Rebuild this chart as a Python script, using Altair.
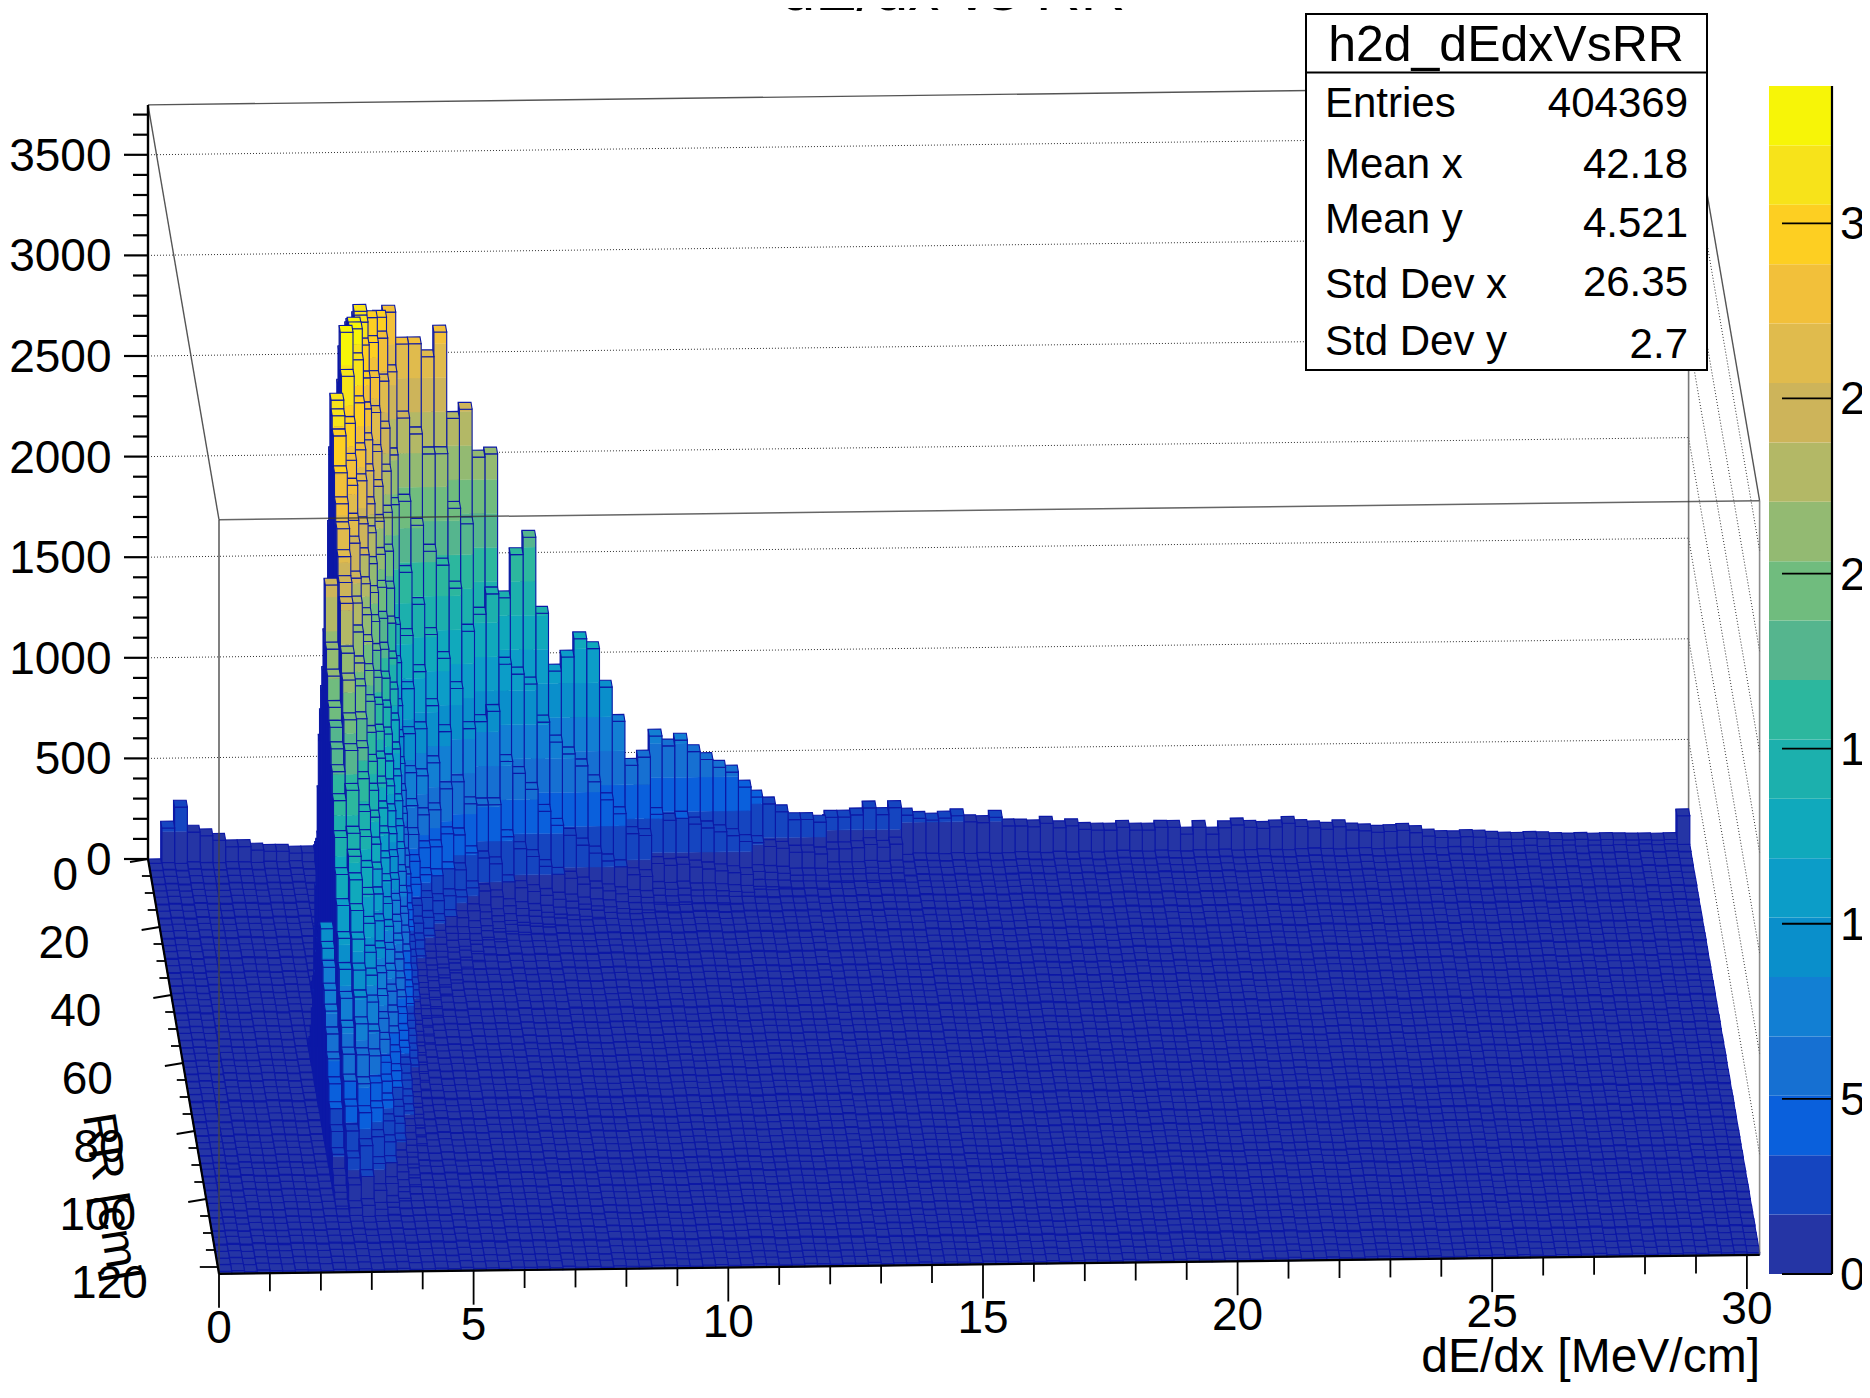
import altair as alt

alt.data_transformers.disable_max_rows()

# ---- axis labels and text ----
TITLE = "dE/dx vs RR"
X_TITLE = "dE/dx [MeV/cm]"
Y_TITLE = "RR [cm]"
Z_TICKS = [0, 500, 1000, 1500, 2000, 2500, 3000, 3500]
X_TICKS = [0, 5, 10, 15, 20, 25, 30]
RR_TICKS = [0, 20, 40, 60, 80, 100, 120]
CB_TICKS = [0, 500, 1000, 1500, 2000, 2500, 3000]
STAT_NAMES = ["Entries", "Mean x", "Mean y", "Std Dev x", "Std Dev y"]
STAT_VALUES = ["404369", "42.18", "4.521", "26.35", "2.7"]
STAT_NAME_Y = [104, 165, 220, 285, 342]
STAT_VALUE_Y = [104, 165, 224, 283, 345]

# ---- histogram layout ----
BIN_X = 0.25
BIN_RR = 2.0
NX = 121
NY = 61
ZMAX = 3392.0
BANDS = ["#2535a5", "#1545c0", "#0a60dc", "#1670d2", "#127fd3", "#0a8fcb", "#0c9dc8",
         "#10a9bc", "#1cb0ad", "#2cb79e", "#55b58e", "#70bc7e", "#93ba72", "#b3b866",
         "#cdb45a", "#e0bb4d", "#f2c03a", "#fdcf22", "#f7e31a", "#f7f507"]
BAND = ZMAX / len(BANDS)

# ---- bin contents ----
ROW0_LEFT = [0, 187, 290, 165, 146, 123, 90, 90, 72, 65, 65, 55, 55]
ROW0_RIGHT = [206, 189, 180, 189, 200, 169, 164, 190, 146, 145, 140, 157, 134, 143, 124, 120,
              119, 132, 118, 117, 130, 129, 95, 127, 93, 124, 137, 124, 118, 125, 142,
              125, 118, 110, 122, 105, 100, 92, 95, 100, 88, 70, 62, 60, 65, 62, 55, 50, 48,
              52, 50, 45, 42, 44, 40, 42, 40, 38, 38, 36, 38, 155]
FLOOR_ROW = [0, 8, 5, 7, 3, 6, 9, 4, 7, 2, 6, 8, 3, 5, 9, 4, 6, 2, 8, 5, 3, 7, 9, 4, 6, 3, 8, 5, 2, 7,
             4, 9, 6, 3, 5, 8, 2, 6, 9, 4, 7, 3, 5, 8, 6, 2, 9, 4, 7, 3, 6, 8, 5, 2, 7, 4, 9, 3, 6, 5, 8]
FLOOR_COL = [4, 7, 2, 9, 5, 3, 8, 6, 2, 7, 4, 9, 3, 6, 8, 2, 5, 7, 4, 9, 3, 6, 2, 8, 5, 7, 3, 9, 4, 6,
             2, 8, 5, 3, 7, 9, 4, 2, 6, 8, 3, 5, 9, 7, 2, 4, 8, 6, 3, 7, 5, 9, 2, 6, 4, 8, 3, 7, 5, 2,
             9, 6, 4, 8, 3, 7, 2, 5, 9, 6, 3, 8, 4, 7, 2, 6, 9, 5, 3, 8, 4, 2, 7, 6, 9, 3, 5, 8, 4, 2,
             7, 9, 6, 3, 5, 8, 2, 4, 7, 6, 9, 3, 8, 5, 2, 6, 4, 7, 9, 3, 5, 8, 2, 6, 4, 7, 3, 9, 5, 8, 4]

COL10 = [40, 90, 180, 300, 430, 560, 690, 790, 880, 930, 964, 900, 840, 760, 690, 610, 520, 430, 340, 260, 180, 110, 60, 25, 10]
COL11 = [60, 120, 400, 650, 900, 1200, 1490, 1650, 1800, 1928, 2150, 2435, 2150, 2050, 1928, 1863, 1790, 1710, 1600, 1450, 1300, 1180, 1050, 930, 820, 710, 610, 510, 420, 330, 230, 130, 50]
COL12 = [300, 600, 1000, 1500, 2000, 2450, 2850, 3150, 3106, 3040, 2890, 2770, 2680, 2575, 2480, 2410, 2197, 2097, 1933, 1814, 1650, 1471, 1390, 1307, 1188, 1080, 960, 860, 760, 640, 530, 420, 290, 170, 60]
COL13 = [60, 110, 160, 230, 320, 420, 520, 640, 760, 920, 1100, 1320, 1560, 1850, 2150, 2350, 2550, 2700, 2800, 2900, 3050, 3250, 3385, 3200, 3000, 2850, 2760, 2620, 2540, 2400, 2310, 2200, 2080, 2000, 1870, 1760, 1640, 1510, 1420, 1300, 1200, 1090, 980, 900, 800, 690, 600, 500, 410, 300, 200, 100, 40]
COL14 = [90, 160, 260, 400, 560, 760, 980, 1250, 1500, 1800, 2100, 2400, 2650, 2850, 2990, 3100, 3200, 3250, 3290, 3300, 3180, 3000, 2800, 2680, 2500, 2380, 2270, 2150, 2050, 1940, 1820, 1700, 1590, 1480, 1380, 1280, 1190, 1100, 1000, 900, 810, 730, 650, 580, 500, 440, 380, 310, 240, 170, 100, 40, 15]
COL15 = [130, 230, 400, 620, 900, 1200, 1550, 1900, 2250, 2600, 2900, 3080, 3150, 3130, 3050, 2920, 2800, 2680, 2560, 2430, 2320, 2200, 2090, 1980, 1870, 1770, 1670, 1570, 1470, 1380, 1290, 1200, 1110, 1030, 950, 870, 790, 720, 650, 580, 510, 450, 390, 340, 280, 230, 180, 130, 90, 50, 25, 12]
COL16 = [180, 330, 570, 880, 1250, 1650, 2100, 2500, 2800, 2980, 3050, 2960, 2820, 2680, 2520, 2380, 2240, 2110, 1980, 1860, 1740, 1630, 1520, 1420, 1320, 1230, 1140, 1060, 980, 900, 830, 760, 700, 640, 580, 520, 470, 420, 370, 320, 275, 230, 190, 150, 115, 85, 60, 40, 25, 15]
COL17 = [240, 450, 780, 1200, 1700, 2200, 2650, 2950, 2880, 2700, 2500, 2320, 2150, 1990, 1840, 1700, 1560, 1440, 1320, 1210, 1110, 1020, 930, 850, 770, 700, 630, 570, 510, 450, 400, 350, 300, 260, 220, 180, 145, 115, 90, 70, 50, 35, 25, 15]
COL18 = [350, 800, 1500, 2300, 2873, 2610, 2231, 2018, 1456, 1300, 1120, 1000, 900, 800, 720, 650, 580, 520, 460, 410, 360, 320, 280, 245, 210, 180, 155, 130, 110, 90, 72, 58, 45, 35, 25, 18, 12]
COL19 = [450, 900, 1600, 2300, 2714, 2380, 2000, 1680, 1400, 1170, 980, 820, 690, 580, 480, 400, 330, 275, 225, 180, 145, 115, 90, 70, 52, 38, 28, 18]
COL20 = [480, 1000, 1700, 2350, 2714, 2300, 1880, 1520, 1220, 970, 770, 610, 480, 380, 300, 235, 180, 135, 100, 75, 55, 40, 28, 18]
COL21 = [520, 1050, 1700, 2300, 2649, 2200, 1750, 1370, 1050, 800, 600, 450, 340, 250, 185, 135, 100, 70, 50, 35, 22]
COL22 = [560, 1100, 1800, 2400, 2771, 2200, 1680, 1250, 920, 670, 480, 340, 240, 170, 120, 85, 60, 40, 25]
COL23 = [480, 900, 1500, 2000, 2341, 1928, 1565, 1100, 670, 440, 300, 200, 130, 85, 55, 35, 20]
COL24 = [500, 950, 1500, 2050, 2386, 1850, 1350, 900, 560, 350, 210, 130, 80, 50, 30, 18]
COL25 = [430, 800, 1350, 1800, 2147, 1400, 900, 520, 290, 160, 90, 55, 30, 18]
COL26 = [450, 820, 1380, 1850, 2162, 1500, 950, 520, 260, 130, 70, 40, 22]
COL27 = [300, 560, 900, 1220, 1446, 1150, 700, 360, 170, 85, 45, 25]
COL28 = [340, 640, 1050, 1400, 1660, 1100, 640, 300, 140, 70, 35, 20]
COL29 = [360, 660, 1100, 1480, 1746, 1050, 560, 260, 120, 60, 30]
COL30 = [290, 520, 860, 1160, 1367, 860, 450, 210, 100, 50, 25]
COL31 = [230, 410, 680, 920, 1079, 760, 380, 170, 80, 40, 20]
COL32 = [240, 430, 720, 980, 1148, 700, 330, 150, 70, 35]
COL33 = [260, 470, 780, 1050, 1238, 640, 280, 120, 55, 28]
COL34 = [250, 450, 750, 1010, 1188, 560, 240, 100, 45, 22]
COL35 = [210, 380, 630, 850, 996, 470, 200, 85, 40]
COL36 = [180, 320, 520, 700, 825, 400, 170, 70, 30]
COL37 = [140, 240, 380, 510, 606, 300, 130, 55, 25]
COL38 = [150, 250, 410, 550, 646, 290, 120, 50, 22]
COL39 = [200, 360, 560, 716, 360, 150, 60, 25]
COL40 = [190, 340, 520, 666, 330, 140, 55, 22]
COL41 = [190, 350, 540, 694, 340, 145, 60, 25]
COL42 = [180, 320, 500, 636, 310, 130, 50, 20]
COL43 = [170, 300, 470, 596, 290, 120, 50, 20]
COL44 = [165, 280, 440, 557, 270, 110, 45, 18]
COL45 = [160, 270, 420, 532, 250, 100, 40, 15]
COL46 = [150, 240, 360, 457, 220, 90, 35, 15]
COL47 = [160, 280, 373, 180, 70, 30, 15]
COL48 = [150, 250, 338, 160, 65, 28, 12]
COL49 = [140, 230, 298, 150, 60, 25]
COL50 = [130, 200, 258, 130, 50, 20]
COL51 = [130, 200, 258, 130, 50, 20]
COL52 = [125, 190, 244, 120, 48, 18]
COL53 = [180, 234, 110, 45, 18]
COL54 = [175, 234, 110, 45, 18]
COL55 = [180, 244, 115, 45, 18]
COL56 = [200, 278, 130, 50, 20]
COL57 = [175, 244, 115, 45, 18]
COL58 = [205, 278, 130, 50, 20]
COLUMNS = {10: (28, COL10), 11: (20, COL11), 12: (18, COL12), 13: (0, COL13), 14: (0, COL14),
           15: (0, COL15), 16: (0, COL16), 17: (0, COL17), 18: (0, COL18), 19: (0, COL19),
           20: (0, COL20), 21: (0, COL21), 22: (0, COL22), 23: (0, COL23), 24: (0, COL24),
           25: (0, COL25), 26: (0, COL26), 27: (0, COL27), 28: (0, COL28), 29: (0, COL29),
           30: (0, COL30), 31: (0, COL31), 32: (0, COL32), 33: (0, COL33), 34: (0, COL34),
           35: (0, COL35), 36: (0, COL36), 37: (0, COL37), 38: (0, COL38), 39: (0, COL39),
           40: (0, COL40), 41: (0, COL41), 42: (0, COL42), 43: (0, COL43), 44: (0, COL44),
           45: (0, COL45), 46: (0, COL46), 47: (0, COL47), 48: (0, COL48), 49: (0, COL49),
           50: (0, COL50), 51: (0, COL51), 52: (0, COL52), 53: (0, COL53), 54: (0, COL54),
           55: (0, COL55), 56: (0, COL56), 57: (0, COL57), 58: (0, COL58)}

# ---- table of heights ----
Z = [[FLOOR_COL[i] + FLOOR_ROW[j] for j in range(NY)] for i in range(NX)]
for i, v in enumerate(ROW0_LEFT):
    Z[i][0] = v
for k, v in enumerate(ROW0_RIGHT[:NX - 59]):
    Z[59 + k][0] = v
Z[NX - 1][0] = ROW0_RIGHT[-1]
for i, (start, vals) in COLUMNS.items():
    for k, v in enumerate(vals):
        Z[i][start + k] = v

# ---- oblique view of the box (page pixels) ----
W, H = 1854, 1380
XMAX = NX * BIN_X
RRMAX = NY * BIN_RR
ZTOP = 3748


def project(x, rr, z):
    sx = 148 + x * 50.93 + rr * 71.0 / 122.0 - 8
    sy = 859 - x * 0.628 + rr * 3.40 - z * 0.2012 - 8
    return [round(sx, 1), round(sy, 1)]


def poly(points, fill, stroke, width):
    ring = points + [points[0]]
    return {"type": "Feature", "geometry": {"type": "Polygon", "coordinates": [ring]},
            "properties": {"f": fill, "s": stroke, "w": width}}


def line(points, stroke="#000000", width=1.0):
    return {"type": "Feature", "geometry": {"type": "LineString", "coordinates": points},
            "properties": {"s": stroke, "w": width}}


def band_index(z):
    return min(len(BANDS) - 1, int(z // BAND))


EDGE = "#0c18a6"
LEGO_W = 1.1
faces = []
for j in range(NY):
    y0, y1 = j * BIN_RR, (j + 1) * BIN_RR
    for i in range(NX - 1, -1, -1):
        x0, x1 = i * BIN_X, (i + 1) * BIN_X
        z = Z[i][j]
        # left side, visible where this bin is above its left neighbour
        zl = Z[i - 1][j] if i > 0 else 0
        if z > zl:
            faces.append(poly([project(x0, y0, z), project(x0, y1, z),
                               project(x0, y1, zl), project(x0, y0, zl)], "#1026a8", EDGE, LEGO_W))
        # front side, visible where this bin is above the next row
        zf = Z[i][j + 1] if j + 1 < NY else 0
        if z > zf:
            lo = zf
            while lo < z:
                k = band_index(lo + 0.01)
                hi = min(z, (k + 1) * BAND)
                if k == len(BANDS) - 1:
                    hi = z
                faces.append(poly([project(x0, y1, hi), project(x1, y1, hi),
                                   project(x1, y1, lo), project(x0, y1, lo)], BANDS[k], BANDS[k], 0.4))
                lo = hi
            faces.append(poly([project(x0, y1, z), project(x1, y1, z),
                               project(x1, y1, zf), project(x0, y1, zf)], "transparent", EDGE, LEGO_W))
        # top
        faces.append(poly([project(x0, y0, z), project(x1, y0, z),
                           project(x1, y1, z), project(x0, y1, z)], BANDS[band_index(z)], EDGE, LEGO_W))

grid = []
for zv in Z_TICKS[1:]:
    grid.append(line([project(0, 0, zv), project(XMAX, 0, zv)]))
    grid.append(line([project(XMAX, 0, zv), project(XMAX, RRMAX, zv)]))

box_back = [line([project(0, 0, ZTOP), project(XMAX, 0, ZTOP)], "#555555", 1.4),
            line([project(0, 0, ZTOP), project(0, RRMAX, ZTOP)], "#555555", 1.4),
            line([project(XMAX, 0, ZTOP), project(XMAX, RRMAX, ZTOP)], "#555555", 1.4),
            line([project(XMAX, 0, 0), project(XMAX, 0, ZTOP)], "#777777", 1.6)]
box_front = [line([project(0, RRMAX, ZTOP), project(XMAX, RRMAX, ZTOP)], "#333333", 1.5),
             line([project(0, RRMAX, 0), project(0, RRMAX, ZTOP)], "#444444", 1.8),
             line([project(XMAX, RRMAX, 0), project(XMAX, RRMAX, ZTOP)], "#666666", 1.6)]

axes = [line([project(0, 0, 0), project(0, 0, ZTOP)], "#000000", 2.4),
        line([project(0, 0, 0), project(0, RRMAX, 0)], "#000000", 2.2),
        line([project(0, RRMAX, 0), project(XMAX, RRMAX, 0)], "#000000", 2.2)]
for zv in range(0, 3701, 100):
    p = project(0, 0, zv)
    length = 24 if zv % 500 == 0 else 15
    axes.append(line([[p[0] - length, p[1]], p], "#000000", 2.2))
for v in range(0, 31):
    p = project(v, RRMAX, 0)
    length = 34 if v % 5 == 0 else 18
    axes.append(line([p, [p[0], p[1] + length]], "#000000", 1.8))
for rr in range(0, 121, 5):
    p = project(0, rr, 0)
    major = rr % 20 == 0
    length = 18 if major else 9
    tilt = 3 if major and rr < 120 else 0
    axes.append(line([[p[0] - length, p[1] + tilt], p], "#000000", 1.8))

stats_box = [poly([[1298, 6], [1699, 6], [1699, 362], [1298, 362]], "#ffffff", "#000000", 2.0),
             line([[1298, 64.5], [1699, 64.5]], "#000000", 2.0)]


def shapes(features, **kw):
    return alt.Chart(alt.Data(values=features)).mark_geoshape(**kw).project(
        type="identity", scale=1, translate=[0, 0])


def filled_layer(features):
    return shapes(features).encode(
        fill=alt.Fill("properties.f:N", scale=None),
        stroke=alt.Stroke("properties.s:N", scale=None),
        strokeWidth=alt.StrokeWidth("properties.w:Q", scale=None),
    )


def line_layer(features, **kw):
    return shapes(features, filled=False, **kw).encode(
        stroke=alt.Stroke("properties.s:N", scale=None),
        strokeWidth=alt.StrokeWidth("properties.w:Q", scale=None),
    )


PX = alt.Scale(domain=[0, W], range=[0, W])
PY = alt.Scale(domain=[0, H], range=[0, H])
FONT = "Liberation Sans"


def texts(rows, size, align="center", baseline="middle", angle=0):
    return alt.Chart(alt.Data(values=rows)).mark_text(
        font=FONT, fontSize=size, align=align, baseline=baseline, angle=angle, color="#000000"
    ).encode(x=alt.X("x:Q", scale=PX, axis=None), y=alt.Y("y:Q", scale=PY, axis=None), text="t:N")


z_rows = []
for v in Z_TICKS:
    p = project(0, 0, v)
    z_rows.append({"x": 103.5, "y": p[1] + 2, "t": str(v)})
x_rows = []
for v in X_TICKS:
    p = project(v, RRMAX, 0)
    x_rows.append({"x": p[0], "y": p[1] + 55, "t": str(v)})
rr_rows = []
for v in RR_TICKS:
    p = project(0, v, 0)
    rr_rows.append({"x": p[0] - 70, "y": p[1] + 17, "t": str(v)})

name_rows = [{"x": 1317, "y": yy - 8, "t": t} for t, yy in zip(STAT_NAMES, STAT_NAME_Y)]
val_rows = [{"x": 1680, "y": yy - 8, "t": t} for t, yy in zip(STAT_VALUES, STAT_VALUE_Y)]

# ---- colour bar, on a scale of its own ----
CB = alt.Scale(domain=[0, ZMAX], range=[1266, 78])
cb_rows = [{"lo": k * BAND, "hi": (k + 1) * BAND, "c": c} for k, c in enumerate(BANDS)]
cb_rect = alt.Chart(alt.Data(values=cb_rows)).mark_rect().encode(
    x=alt.value(1761), x2=alt.value(1823),
    y=alt.Y("lo:Q", scale=CB, axis=None), y2="hi:Q",
    fill=alt.Fill("c:N", scale=None))
cb_tick_rows = [{"v": v, "t": str(v)} for v in CB_TICKS]
cb_ticks = alt.Chart(alt.Data(values=cb_tick_rows)).mark_rule(color="#000000", strokeWidth=1.8).encode(
    x=alt.value(1774), x2=alt.value(1824), y=alt.Y("v:Q", scale=CB, axis=None))
cb_axis = alt.Chart(alt.Data(values=[{"a": 0, "b": ZMAX}])).mark_rule(color="#000000", strokeWidth=2.2).encode(
    x=alt.value(1824), y=alt.Y("a:Q", scale=CB, axis=None), y2="b:Q")
cb_labels = alt.Chart(alt.Data(values=cb_tick_rows)).mark_text(
    font=FONT, fontSize=46, align="left", baseline="middle", color="#000000", dy=2
).encode(x=alt.value(1832), y=alt.Y("v:Q", scale=CB, axis=None), text="t:N")

chart = alt.layer(
    line_layer(grid, strokeDash=[1, 2], opacity=0.8),
    line_layer(box_back),
    filled_layer(faces),
    line_layer(box_front, opacity=0.75),
    line_layer(axes),
    texts([{"x": 945, "y": 2, "t": TITLE}], 62, baseline="alphabetic"),
    texts(z_rows, 46, align="right"),
    texts(x_rows, 46),
    texts(rr_rows, 46, align="right"),
    texts([{"x": 1752, "y": 1350, "t": X_TITLE}], 48, align="right"),
    texts([{"x": 102, "y": 1189, "t": Y_TITLE}], 47, angle=81),
    cb_rect, cb_ticks, cb_axis, cb_labels,
    filled_layer(stats_box[:1]),
    line_layer(stats_box[1:]),
    texts([{"x": 1498, "y": 38, "t": "h2d_dEdxVsRR"}], 50),
    texts(name_rows, 42, align="left"),
    texts(val_rows, 42, align="right"),
).resolve_scale(x="independent", y="independent").properties(
    width=W, height=H, padding=0, autosize=alt.AutoSizeParams(type="none"),
    background="#ffffff",
).configure_view(stroke=None)

chart.save("out.html", embed_options={"renderer": "svg", "actions": False})
